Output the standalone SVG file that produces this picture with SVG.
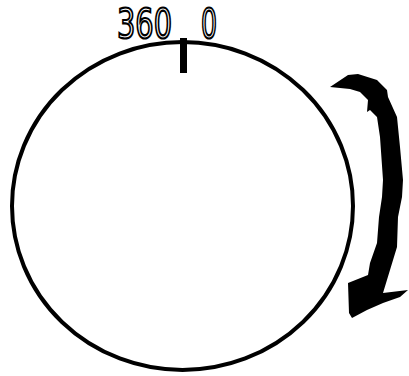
<svg xmlns="http://www.w3.org/2000/svg" width="409" height="376" viewBox="0 0 409 376">
<style>
.lbl{font-family:"DejaVu Sans","Liberation Sans",sans-serif;font-size:40px;fill:#fff;stroke:#000;stroke-width:2.2px}
</style>
<rect width="409" height="376" fill="#fff"/>
<g id="dial">
<ellipse cx="182.5" cy="206" rx="170.5" ry="164" fill="none" stroke="#000" stroke-width="4"/>
<rect x="180" y="38" width="7" height="35" fill="#000"/>
</g>
<g id="labels">
<text class="lbl" x="117" y="38" textLength="55" lengthAdjust="spacingAndGlyphs">360</text>
<text class="lbl" x="201" y="38" textLength="16" lengthAdjust="spacingAndGlyphs">0</text>
</g>
<g id="arrow">
<path fill="#000" d="M330,87 L348,75 L358,74 L377,80 L387,90 L388,97 L397,117 L400,147 L403,180 L402,197 L398,217 L397,247 L390,270 L383,293 L408,290 L400,297 L383,303 L367,310 L352,318 L349,313 L348,283 L368,275 L370,263 L377,243 L379,217 L382,197 L383,180 L380,137 L377,117 L370,110 L367,112 L368,100 L360,92 L350,89 Z"/>
</g>
</svg>
